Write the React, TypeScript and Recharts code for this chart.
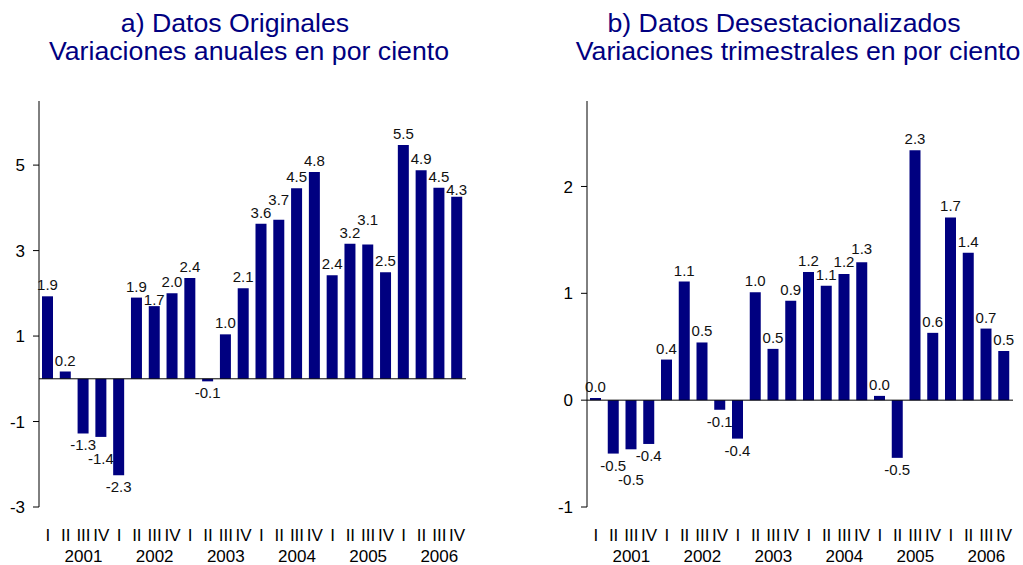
import React from 'react';
import { BarChart, Bar, XAxis, YAxis, ReferenceLine, LabelList } from 'recharts';

const years = ['2001', '2002', '2003', '2004', '2005', '2006'];
const quarters = ['I', 'II', 'III', 'IV'];

const originales = [
  1.93, 0.17, -1.28, -1.36,
  -2.26, 1.9, 1.7, 2.0,
  2.36, -0.06, 1.04, 2.12,
  3.63, 3.72, 4.46, 4.84,
  2.42, 3.16, 3.14, 2.49,
  5.47, 4.88, 4.47, 4.26,
];

const desestacionalizados = [
  0.02, -0.5, -0.46, -0.41,
  0.38, 1.11, 0.54, -0.09,
  -0.36, 1.01, 0.48, 0.93,
  1.2, 1.07, 1.18, 1.29,
  0.04, -0.54, 2.34, 0.63,
  1.71, 1.38, 0.67, 0.46,
];

const domainA: [number, number] = [-3, 6.5];
const domainB: [number, number] = [-1, 2.8];
const ticksA = [-3, -1, 1, 3, 5];
const ticksB = [-1, 0, 1, 2];

const categories = years.flatMap((y) => quarters.map((q) => `${y}-${q}`));
const dataA = categories.map((c, i) => ({ cat: c, v: originales[i] }));
const dataB = categories.map((c, i) => ({ cat: c, v: desestacionalizados[i] }));

const NAVY = '#000080';
const FONT = '"Liberation Sans", Arial, sans-serif';
const CHART_H = 565;
const TOP = 101;
const X_H = 58;

// Label baselines: placed just beyond each bar's end, staggered when
// neighbouring labels would collide.
function labelBaselines(values: number[], domain: [number, number]): number[] {
  const plotH = CHART_H - TOP - X_H;
  const ppu = plotH / (domain[1] - domain[0]);
  const zeroY = TOP + domain[1] * ppu;
  const out: number[] = [];
  values.forEach((v, i) => {
    const end = zeroY - v * ppu;
    let y = v >= 0 ? end - 6 : end + 17;
    if (i > 0) {
      const prev = out[i - 1];
      if (Math.abs(y - prev) < 13) {
        if (v >= 0) {
          if (y >= prev && prev + 13 <= end - 1) y = prev + 13;
          else y = prev - 13;
        } else {
          y = prev + 14;
        }
      }
    }
    out.push(y);
  });
  return out;
}

const basesA = labelBaselines(originales, domainA);
const basesB = labelBaselines(desestacionalizados, domainB);

const QuarterTick = (props: any) => {
  const { x, y, payload } = props;
  const i: number = payload.index;
  return (
    <g>
      <text x={x} y={y + 34} textAnchor="middle" fontSize={17} fill="#000" fontFamily={FONT}>
        {quarters[i % 4]}
      </text>
      {i % 4 === 2 && (
        <text x={x} y={y + 55} textAnchor="middle" fontSize={17} fill="#000" fontFamily={FONT}>
          {years[Math.floor(i / 4)]}
        </text>
      )}
    </g>
  );
};

const makeLabel = (bases: number[]) => (props: any) => {
  const { x, width, value, index } = props;
  const v = Number(value);
  return (
    <text
      key={`l-${index}`}
      x={x + width / 2}
      y={bases[index]}
      textAnchor="middle"
      fontSize={15}
      fill="#111"
      fontFamily={FONT}
    >
      {v.toFixed(1)}
    </text>
  );
};

const Panel = ({ data, domain, ticks, yWidth, width, rightMargin, bases }: any) => (
  <BarChart
    width={width}
    height={CHART_H}
    data={data}
    margin={{ top: TOP, right: rightMargin, bottom: 0, left: 0 }}
    barSize={11}
  >
    <XAxis
      dataKey="cat"
      interval={0}
      axisLine={false}
      tickLine={false}
      tickSize={0}
      tickMargin={0}
      height={X_H}
      tick={<QuarterTick />}
    />
    <YAxis
      domain={domain}
      ticks={ticks}
      type="number"
      allowDataOverflow
      width={yWidth}
      axisLine={{ stroke: '#000', strokeWidth: 1 }}
      tickLine={{ stroke: '#000', strokeWidth: 1 }}
      tickSize={6}
      tickMargin={8}
      tick={{ fontSize: 17, fill: '#000', fontFamily: FONT }}
    />
    <Bar dataKey="v" fill={NAVY} isAnimationActive={false}>
      <LabelList dataKey="v" content={makeLabel(bases)} />
    </Bar>
    <ReferenceLine y={0} stroke="#000" strokeWidth={1} />
  </BarChart>
);

const titleStyle: React.CSSProperties = {
  position: 'absolute',
  fontFamily: FONT,
  fontSize: 26.7,
  color: NAVY,
  whiteSpace: 'nowrap',
  transform: 'translateX(-50%)',
  lineHeight: '28px',
};

export default function App() {
  return (
    <div
      style={{
        position: 'absolute',
        left: 0,
        top: 0,
        width: 1023,
        height: 565,
        background: '#fff',
        overflow: 'hidden',
      }}
    >
      <div style={{ ...titleStyle, left: 235, top: 8.5 }}>a) Datos Originales</div>
      <div style={{ ...titleStyle, left: 249, top: 36.5 }}>Variaciones anuales en por ciento</div>
      <div style={{ ...titleStyle, left: 784, top: 8.5 }}>b) Datos Desestacionalizados</div>
      <div style={{ ...titleStyle, left: 798, top: 36.5 }}>Variaciones trimestrales en por ciento</div>

      <div style={{ position: 'absolute', left: 0, top: 0 }}>
        <Panel data={dataA} domain={domainA} ticks={ticksA} yWidth={39} width={500} rightMargin={34} bases={basesA} />
      </div>
      <div style={{ position: 'absolute', left: 520, top: 0 }}>
        <Panel data={dataB} domain={domainB} ticks={ticksB} yWidth={67} width={503} rightMargin={10} bases={basesB} />
      </div>
    </div>
  );
}
